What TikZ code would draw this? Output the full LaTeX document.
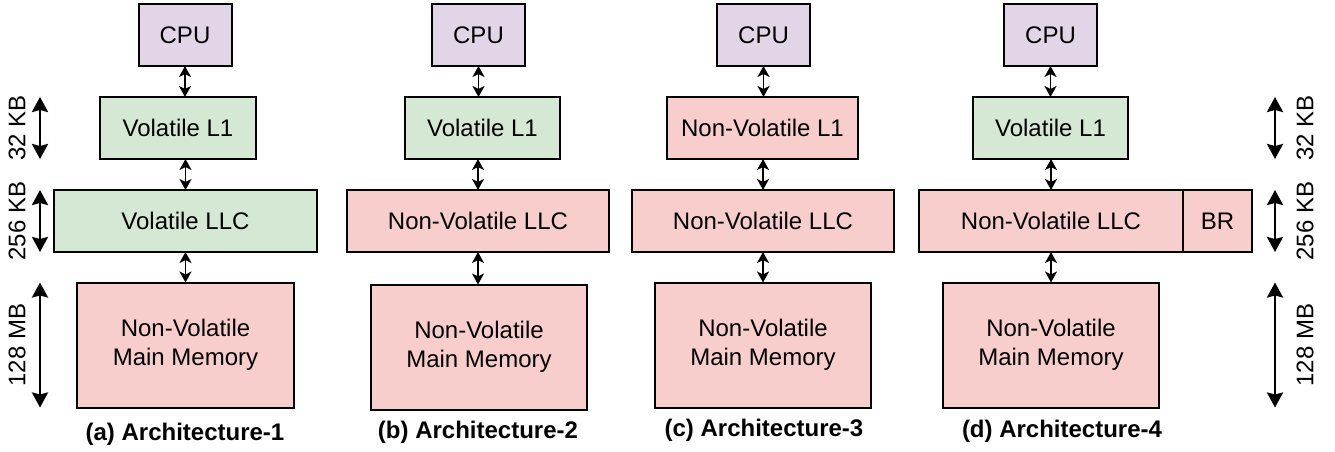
\documentclass[tikz,border=0pt]{standalone}
\usepackage{fontspec}
\setmainfont{Liberation Sans}
\usepackage{xcolor}
\usepackage{tikz}
\usetikzlibrary{arrows.meta,positioning}
\definecolor{cpufill}{HTML}{E1D5E7}
\definecolor{volfill}{HTML}{D5E8D4}
\definecolor{nvfill}{HTML}{F8CECC}

\tikzset{
  blk/.style={draw,line width=2pt,rectangle,inner sep=0pt,outer sep=0pt,
              align=center,minimum height=62pt},
  cpu/.style={blk,fill=cpufill,minimum width=93pt},
  vol/.style={blk,fill=volfill},
  nvm/.style={blk,fill=nvfill},
  link/.style={{Stealth[length=11pt,width=12pt,inset=3pt]}-{Stealth[length=11pt,width=12pt,inset=3pt]},
               line width=1.5pt},
  sizearr/.style={{Stealth[length=15pt,width=16pt,inset=2pt]}-{Stealth[length=15pt,width=16pt,inset=2pt]},
                  line width=2.5pt},
  sizelab/.style={rotate=90,inner sep=0pt},
  capt/.style={font=\fontsize{24}{28.8}\selectfont\bfseries}
}

\begin{document}
\begin{tikzpicture}[x=1pt,y=-1pt,font=\fontsize{24}{28.8}\selectfont]
    % 1pt = 1px of the sketch, y runs downwards
    \useasboundingbox (0,0) rectangle (1335,452);
    \coordinate (lftArr) at (40,0);
    \coordinate (lftLab) at (17,0);
    \coordinate (rgtArr) at (1275,0);
    \coordinate (rgtLab) at (1305,0);

    % (a)
    \node[cpu] (cpuA) at (185,35) {CPU};
    \node[vol,minimum width=156pt] (l1A) at (178,128) {Volatile L1};
    \node[vol,minimum width=263pt] (llcA) at (185.5,221) {Volatile LLC};
    \node[nvm,minimum width=217pt,minimum height=125pt] (memA) at (185.5,345) {Non-Volatile\\Main Memory};
    \node[capt] (capA) at (185,434) {(a) Architecture-1};
    \draw[link](cpuA.south)--(cpuA.south |- l1A.north);
    \draw[link](l1A.south -| llcA.north)--(llcA.north);
    \draw[link](llcA.south)--(llcA.south |- memA.north);

    % (b)
    \node[cpu] (cpuB) at (478.5,35) {CPU};
    \node[vol,minimum width=155pt] (l1B) at (482.5,128) {Volatile L1};
    \node[nvm,minimum width=262pt] (llcB) at (478,221) {Non-Volatile LLC};
    \node[nvm,minimum width=216pt,minimum height=125pt] (memB) at (479,347) {Non-Volatile\\Main Memory};
    \node[capt] (capB) at (478,432) {(b) Architecture-2};
    \draw[link](cpuB.south)--(cpuB.south |- l1B.north);
    \draw[link](l1B.south -| llcB.north)--(llcB.north);
    \draw[link](llcB.south)--(llcB.south |- memB.north);

    % (c)
    \node[cpu] (cpuC) at (763.5,35) {CPU};
    \node[nvm,minimum width=191pt] (l1C) at (762.5,128) {Non-Volatile L1};
    \node[nvm,minimum width=262pt] (llcC) at (763,221) {Non-Volatile LLC};
    \node[nvm,minimum width=216pt,minimum height=125pt] (memC) at (763,345) {Non-Volatile\\Main Memory};
    \node[capt] (capC) at (764,430) {(c) Architecture-3};
    \draw[link](cpuC.south)--(cpuC.south |- l1C.north);
    \draw[link](l1C.south -| llcC.north)--(llcC.north);
    \draw[link](llcC.south)--(llcC.south |- memC.north);

    % (d)
    \node[cpu] (cpuD) at (1050.5,35) {CPU};
    \node[vol,minimum width=155pt] (l1D) at (1050.5,128) {Volatile L1};
    \node[nvm,minimum width=264pt] (llcD) at (1051,221) {Non-Volatile LLC};
    \node[nvm,minimum width=69pt,right=0pt of llcD] (brD) {BR};
    \node[nvm,minimum width=216pt,minimum height=125pt] (memD) at (1051,345) {Non-Volatile\\Main Memory};
    \node[capt] (capD) at (1062,431) {(d) Architecture-4};
    \draw[link](cpuD.south)--(cpuD.south |- l1D.north);
    \draw[link](l1D.south -| llcD.north)--(llcD.north);
    \draw[link](llcD.south)--(llcD.south |- memD.north);

    % capacities
    \draw[sizearr](l1A.north -| lftArr)--(l1A.south -| lftArr);
    \draw[sizearr](llcA.north -| lftArr)--(llcA.south -| lftArr);
    \draw[sizearr](memA.north -| lftArr)--(memA.south -| lftArr);
    \node[sizelab] (kbL1) at (l1A.west -| lftLab) {32 KB};
    \node[sizelab] (kbL2) at (llcA.west -| lftLab) {256 KB};
    \node[sizelab] (mbL) at (memA.west -| lftLab) {128 MB};
    \draw[sizearr](l1D.north -| rgtArr)--(l1D.south -| rgtArr);
    \draw[sizearr](llcD.north -| rgtArr)--(llcD.south -| rgtArr);
    \draw[sizearr](memD.north -| rgtArr)--(memD.south -| rgtArr);
    \node[sizelab] (kbR1) at (l1D.east -| rgtLab) {32 KB};
    \node[sizelab] (kbR2) at (llcD.east -| rgtLab) {256 KB};
    \node[sizelab] (mbR) at (memD.east -| rgtLab) {128 MB};
\end{tikzpicture}
\end{document}
